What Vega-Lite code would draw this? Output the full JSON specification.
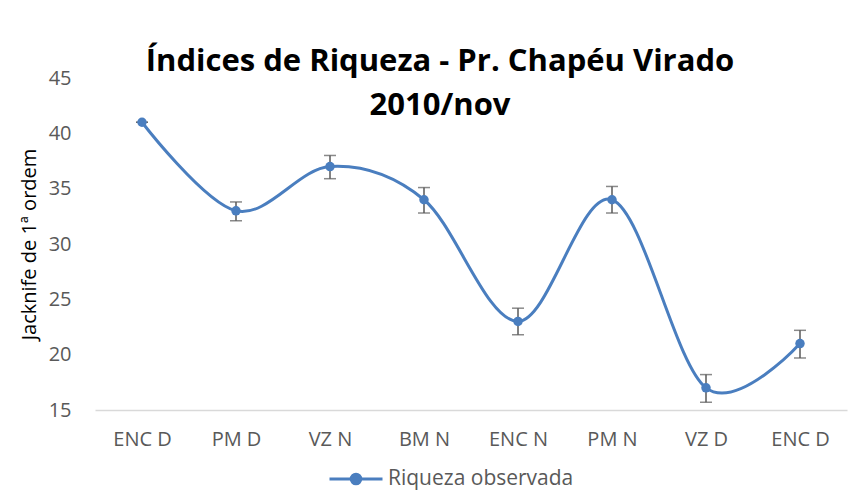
{
  "$schema": "https://vega.github.io/schema/vega-lite/v6.json",
  "width": 752,
  "height": 332,
  "autosize": {"type": "none"},
  "padding": {"left": 95, "top": 78, "right": 11, "bottom": 83},
  "background": "white",
  "title": {
    "text": ["Índices de Riqueza - Pr. Chapéu Virado", "2010/nov"],
    "anchor": "middle",
    "dx": -31,
    "offset": -54,
    "font": "Open Sans",
    "fontSize": 31,
    "fontWeight": "bold",
    "color": "#000000",
    "lineHeight": 44
  },
  "data": {
    "values": [
      {"site": "ENC D", "value": 41, "low": 41, "high": 41},
      {"site": "PM D", "value": 33, "low": 32.1, "high": 33.8},
      {"site": "VZ N", "value": 37, "low": 35.9, "high": 38.0},
      {"site": "BM N", "value": 34, "low": 32.8, "high": 35.1},
      {"site": "ENC N", "value": 23, "low": 21.8, "high": 24.2},
      {"site": "PM N", "value": 34, "low": 32.8, "high": 35.2},
      {"site": "VZ D", "value": 17, "low": 15.7, "high": 18.2},
      {"site": "ENC D ", "value": 21, "low": 19.7, "high": 22.2}
    ]
  },
  "encoding": {
    "x": {
      "field": "site",
      "type": "ordinal",
      "sort": null,
      "scale": {"type": "point", "padding": 0.5},
      "axis": {
        "title": null,
        "labelAngle": 0,
        "labelFont": "Open Sans",
        "labelFontSize": 20,
        "labelColor": "#595959",
        "labelPadding": 19,
        "ticks": false,
        "domainColor": "#d9d9d9",
        "domainWidth": 1.5,
        "grid": false
      }
    }
  },
  "layer": [
    {
      "mark": {"type": "rule", "color": "#595959", "strokeWidth": 1.5},
      "encoding": {
        "y": {"field": "low", "type": "quantitative"},
        "y2": {"field": "high"}
      }
    },
    {
      "mark": {"type": "tick", "orient": "horizontal", "color": "#595959", "size": 12, "thickness": 1.5},
      "encoding": {"y": {"field": "low", "type": "quantitative"}}
    },
    {
      "mark": {"type": "tick", "orient": "horizontal", "color": "#595959", "size": 12, "thickness": 1.5},
      "encoding": {"y": {"field": "high", "type": "quantitative"}}
    },
    {
      "mark": {"type": "line", "interpolate": "cardinal", "strokeWidth": 3},
      "encoding": {
        "y": {
          "field": "value",
          "type": "quantitative",
          "scale": {"domain": [15, 45], "nice": false, "zero": false},
          "axis": {
            "title": "Jacknife de 1ª ordem",
            "titleFont": "Open Sans",
            "titleFontSize": 20,
            "titleFontWeight": "normal",
            "titleColor": "#000000",
            "titlePadding": 9,
            "values": [15, 20, 25, 30, 35, 40, 45],
            "labelFont": "Open Sans",
            "labelFontSize": 20,
            "labelColor": "#595959",
            "labelPadding": 24,
            "ticks": false,
            "domain": false,
            "grid": false
          }
        },
        "color": {
          "datum": "Riqueza observada",
          "type": "nominal",
          "scale": {"range": ["#4a7ebf"]},
          "legend": {
            "title": null,
            "orient": "none",
            "legendX": 233,
            "legendY": 373,
            "labelFont": "Open Sans",
            "labelFontSize": 21,
            "labelColor": "#595959",
            "labelLimit": 400,
            "symbolType": "M-1,0H1M0.18,0A0.18,0.18,0,1,1,-0.18,0A0.18,0.18,0,1,1,0.18,0Z",
            "symbolSize": 2809,
            "symbolStrokeWidth": 3,
            "symbolFillColor": "#4a7ebf",
            "labelOffset": 4
          }
        }
      }
    },
    {
      "mark": {"type": "point", "filled": true, "opacity": 1, "size": 90, "color": "#4a7ebf"},
      "encoding": {"y": {"field": "value", "type": "quantitative"}}
    }
  ],
  "config": {
    "view": {"stroke": null}
  }
}
